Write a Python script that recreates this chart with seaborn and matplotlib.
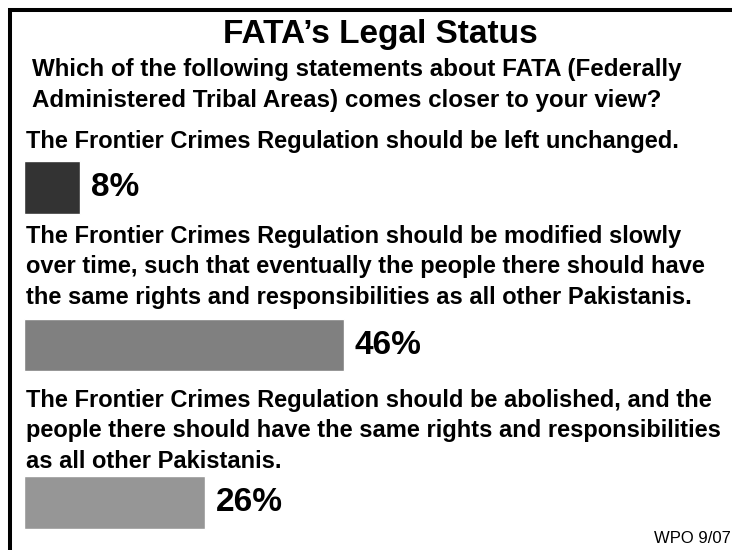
import matplotlib
matplotlib.use("Agg")
import matplotlib.pyplot as plt
import matplotlib.patches as patches
import seaborn as sns
import pandas as pd

# chart content
title = "FATA\u2019s Legal Status"
question = ["Which of the following statements about FATA (Federally",
            "Administered Tribal Areas) comes closer to your view?"]
statements = [
    ["The Frontier Crimes Regulation should be left unchanged."],
    ["The Frontier Crimes Regulation should be modified slowly",
     "over time, such that eventually the people there should have",
     "the same rights and responsibilities as all other Pakistanis."],
    ["The Frontier Crimes Regulation should be abolished, and the",
     "people there should have the same rights and responsibilities",
     "as all other Pakistanis."],
]
answers = ["Left unchanged", "Modified slowly", "Abolished"]
percents = [8, 46, 26]
bar_colors = ["#333333", "#808080", "#969696"]
source = "WPO 9/07"

sns.set_style("white")
plt.rcParams["font.family"] = ["Liberation Sans", "DejaVu Sans"]
plt.rcParams["text.color"] = "black"

W, H = 732, 550
fig = plt.figure(figsize=(W / 100, H / 100), dpi=100)
ax = fig.add_axes([0, 0, 1, 1])

def fx(px):
    return px / W

def fy(py):
    return 1 - py / H

df = pd.DataFrame({"answer": answers, "pct": percents})
sns.barplot(data=df, x="pct", y="answer", hue="answer", orient="h",
            palette=dict(zip(answers, bar_colors)), saturation=1,
            width=0.335, legend=False, ax=ax)

# scale: ~6.95 px per percent, bars start at x=24px
ax.set_xlim(-24 / 6.95, (W - 24) / 6.95)
ax.set_ylim(2 + 47.5 / 157.5, -187.5 / 157.5)
ax.axis("off")

for c in ax.containers:
    ax.bar_label(c, fmt="%d%%", padding=8, fontsize=24, fontweight="bold", color="black")

# frame (left and top edges visible)
fig.add_artist(patches.Rectangle((fx(10), -0.2), 1.5, fy(10) + 0.2, fill=False,
                                 lw=2.9, ec="black", transform=fig.transFigure))

fig.text(fx(380), fy(43), title, ha="center", va="baseline", fontsize=24, fontweight="bold")
for i, line in enumerate(question):
    fig.text(fx(32), fy(76 + 31 * i), line, ha="left", va="baseline",
             fontsize=17.4, fontweight="bold")

starts = [148, 243, 407]
for s, lines in zip(starts, statements):
    for i, line in enumerate(lines):
        fig.text(fx(26), fy(s + 30.5 * i), line, ha="left", va="baseline",
                 fontsize=17, fontweight="bold")

fig.text(fx(731), fy(543), source, ha="right", va="baseline", fontsize=12)

fig.savefig("out.png", dpi=100)
